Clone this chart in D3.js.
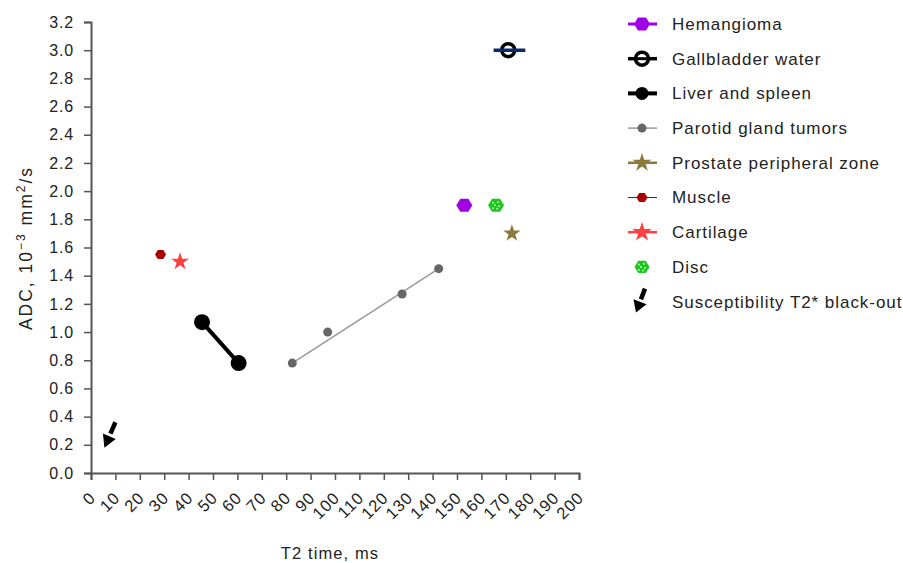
<!DOCTYPE html>
<html>
<head>
<meta charset="utf-8">
<script src="https://cdn.jsdelivr.net/npm/d3@7"></script>
<style>
  body { margin: 0; background: #fff; }
  svg text { font-family: "Liberation Sans", Arial, Helvetica, sans-serif; fill: #222; }
</style>
</head>
<body>
<div id="chart"></div>
<script>
// T2 time (ms) vs ADC (10^-3 mm2/s)
var hemangioma = [{t2: 153, adc: 1.9}];
var gallbladder = [{t2: 171, adc: 3.0, lo: 165, hi: 178}];
var liverSpleen = [{t2: 45.5, adc: 1.07}, {t2: 60.5, adc: 0.78}];
var parotid = [{t2: 82.5, adc: 0.78}, {t2: 97, adc: 1.0}, {t2: 127.5, adc: 1.27}, {t2: 142.5, adc: 1.45}];
var prostate = [{t2: 172.5, adc: 1.7}];
var muscle = [{t2: 28.5, adc: 1.55}];
var cartilage = [{t2: 36.5, adc: 1.5}];
var disc = [{t2: 166, adc: 1.9}];
var blackout = {from: {t2: 10, adc: 0.36}, to: {t2: 5.5, adc: 0.18}};

var xTicks = d3.range(0, 201, 10);
var yTicks = d3.range(0, 3.21, 0.2);

var legendNames = ['Hemangioma', 'Gallbladder water', 'Liver and spleen', 'Parotid gland tumors',
  'Prostate peripheral zone', 'Muscle', 'Cartilage', 'Disc', 'Susceptibility T2* black-out'];

var width = 903, height = 563;
var x = d3.scaleLinear().domain([0, 200]).range([91, 579]);
var y = d3.scaleLinear().domain([0, 3.2]).range([473, 22]);

var svg = d3.select('#chart').append('svg')
    .attr('width', width)
    .attr('height', height);

// hexagon with pointy left/right ends
function hexPath(r) {
  var pts = d3.range(6).map(function (i) {
    var a = Math.PI / 3 * i;
    return [r * Math.cos(a), r * Math.sin(a) * 0.95];
  });
  return 'M' + pts.join('L') + 'Z';
}
var star = function (size) { return d3.symbol().type(d3.symbolStar).size(size)(); };

// axes
var yAxis = svg.append('g')
    .attr('transform', 'translate(91,0)')
    .call(d3.axisLeft(y).tickValues(yTicks).tickSize(7).tickPadding(10).tickFormat(d3.format('.1f')));
var xAxis = svg.append('g')
    .attr('transform', 'translate(0,473)')
    .call(d3.axisBottom(x).tickValues(xTicks).tickSize(7).tickFormat(d3.format('d')));

[xAxis, yAxis].forEach(function (ax) {
  ax.select('.domain').attr('stroke', '#555').attr('stroke-width', 2);
  ax.selectAll('.tick line').attr('stroke', '#555').attr('stroke-width', 1.5);
  ax.selectAll('.tick text').style('font-size', '16px').style('letter-spacing', '0.8px').attr('fill', '#222');
});
xAxis.selectAll('.tick text')
    .style('font-size', '16.5px')
    .attr('text-anchor', 'end')
    .attr('dy', null)
    .attr('y', 0)
    .attr('transform', 'translate(5,26) rotate(-45)');

svg.append('text')
    .attr('x', 330).attr('y', 559)
    .attr('text-anchor', 'middle')
    .style('font-size', '16.5px')
    .style('letter-spacing', '1.1px')
    .text('T2 time, ms');

var yt = svg.append('text')
    .attr('transform', 'translate(32,248) rotate(-90)')
    .attr('text-anchor', 'middle')
    .style('font-size', '17.5px')
    .style('letter-spacing', '2px');
yt.append('tspan').text('ADC, 10');
yt.append('tspan').attr('dy', -7).style('font-size', '12px').text('\u22123');
yt.append('tspan').attr('dy', 7).text(' mm');
yt.append('tspan').attr('dy', -7).style('font-size', '12px').text('2');
yt.append('tspan').attr('dy', 7).text('/s');

var plot = svg.append('g');
var line = d3.line().x(function (d) { return x(d.t2); }).y(function (d) { return y(d.adc); });

// parotid: straight trend line from first to last measurement
plot.append('path').datum([parotid[0], parotid[parotid.length - 1]]).attr('d', line)
    .attr('fill', 'none').attr('stroke', '#999').attr('stroke-width', 1.5);
plot.selectAll('.parotid').data(parotid).enter().append('circle')
    .attr('cx', function (d) { return x(d.t2); }).attr('cy', function (d) { return y(d.adc); })
    .attr('r', 4.5).attr('fill', '#666');

// liver and spleen
plot.append('path').datum(liverSpleen).attr('d', line)
    .attr('fill', 'none').attr('stroke', '#000').attr('stroke-width', 4);
plot.selectAll('.liver').data(liverSpleen).enter().append('circle')
    .attr('cx', function (d) { return x(d.t2); }).attr('cy', function (d) { return y(d.adc); })
    .attr('r', 8).attr('fill', '#000');

// gallbladder water
plot.selectAll('.gb').data(gallbladder).enter().append('circle')
    .attr('cx', function (d) { return x(d.t2); }).attr('cy', function (d) { return y(d.adc); })
    .attr('r', 6.5).attr('fill', '#fff').attr('stroke', '#000').attr('stroke-width', 3.5);
plot.selectAll('.gbbar').data(gallbladder).enter().append('line')
    .attr('x1', function (d) { return x(d.lo); }).attr('x2', function (d) { return x(d.hi); })
    .attr('y1', function (d) { return y(d.adc); }).attr('y2', function (d) { return y(d.adc); })
    .attr('stroke', '#0a2a6a').attr('stroke-width', 3.5);

// hemangioma
plot.selectAll('.hem').data(hemangioma).enter().append('path')
    .attr('transform', function (d) { return 'translate(' + x(d.t2) + ',' + y(d.adc) + ')'; })
    .attr('d', hexPath(8)).attr('fill', '#a000e6');

// disc
var discG = plot.selectAll('.disc').data(disc).enter().append('g')
    .attr('transform', function (d) { return 'translate(' + x(d.t2) + ',' + y(d.adc) + ')'; });
discG.append('path').attr('d', hexPath(8)).attr('fill', '#1ec81e');
[[-3, -2.5], [2, -3], [-1, 0], [3, 1], [-3, 3], [1, 3.5]].forEach(function (p) {
  discG.append('circle').attr('cx', p[0]).attr('cy', p[1]).attr('r', 0.9).attr('fill', '#cfffcf');
});

// prostate
plot.selectAll('.pro').data(prostate).enter().append('path')
    .attr('transform', function (d) { return 'translate(' + x(d.t2) + ',' + y(d.adc) + ')'; })
    .attr('d', star(95)).attr('fill', '#8a7a3c');

// muscle
plot.selectAll('.mus').data(muscle).enter().append('path')
    .attr('transform', function (d) { return 'translate(' + x(d.t2) + ',' + y(d.adc) + ')'; })
    .attr('d', hexPath(5.5)).attr('fill', '#a80000');

// cartilage
plot.selectAll('.car').data(cartilage).enter().append('path')
    .attr('transform', function (d) { return 'translate(' + x(d.t2) + ',' + y(d.adc) + ')'; })
    .attr('d', star(100)).attr('fill', '#ff4040');

// susceptibility black-out arrow
function drawArrow(g, x1, y1, x2, y2) {
  var ang = Math.atan2(y2 - y1, x2 - x1) * 180 / Math.PI;
  var len = Math.hypot(x2 - x1, y2 - y1);
  var a = g.append('g').attr('transform', 'translate(' + x1 + ',' + y1 + ') rotate(' + ang + ')');
  a.append('line').attr('x1', 0).attr('y1', 0).attr('x2', len * 0.45).attr('y2', 0)
      .attr('stroke', '#000').attr('stroke-width', 4.5);
  a.append('path').attr('d', 'M' + (len * 0.55) + ',-7L' + len + ',0L' + (len * 0.55) + ',7Z').attr('fill', '#000');
}
drawArrow(plot, x(blackout.from.t2), y(blackout.from.adc), x(blackout.to.t2), y(blackout.to.adc));

// legend
var lg = svg.append('g');
var rowY = function (i) { return 24 + i * 34.7; };
var lx0 = 628, lx1 = 657, lc = 642;
legendNames.forEach(function (name, i) {
  var row = lg.append('g').attr('transform', 'translate(0,' + rowY(i) + ')');
  row.append('text').attr('x', 672).attr('y', 0).attr('dy', '0.35em')
      .style('font-size', '17px').style('letter-spacing', '0.95px').text(name);
  function seg(color, w) {
    row.append('line').attr('x1', lx0).attr('x2', lx1).attr('y1', 0).attr('y2', 0)
        .attr('stroke', color).attr('stroke-width', w);
  }
  if (i === 0) { seg('#a000e6', 3); row.append('path').attr('transform', 'translate(' + lc + ',0)').attr('d', hexPath(8)).attr('fill', '#a000e6'); }
  if (i === 1) { seg('#000', 3.5); row.append('circle').attr('cx', lc).attr('cy', 0).attr('r', 6.5).attr('fill', '#fff').attr('stroke', '#000').attr('stroke-width', 3.5);
    row.append('line').attr('x1', lc - 5).attr('x2', lc + 5).attr('y1', 0).attr('y2', 0).attr('stroke', '#000').attr('stroke-width', 3); }
  if (i === 2) { seg('#000', 4); row.append('circle').attr('cx', lc).attr('cy', 0).attr('r', 6.5).attr('fill', '#000'); }
  if (i === 3) { seg('#999', 1.5); row.append('circle').attr('cx', lc).attr('cy', 0).attr('r', 4.5).attr('fill', '#666'); }
  if (i === 4) { seg('#8a7a3c', 2.5); row.append('path').attr('transform', 'translate(' + lc + ',0)').attr('d', star(110)).attr('fill', '#8a7a3c'); }
  if (i === 5) { seg('#a80000', 1); row.append('path').attr('transform', 'translate(' + lc + ',0)').attr('d', hexPath(5.5)).attr('fill', '#a80000'); }
  if (i === 6) { seg('#ff4040', 2.5); row.append('path').attr('transform', 'translate(' + lc + ',0)').attr('d', star(120)).attr('fill', '#ff4040'); }
  if (i === 7) {
    var dg = row.append('g').attr('transform', 'translate(' + lc + ',0)');
    dg.append('path').attr('d', hexPath(7.5)).attr('fill', '#1ec81e');
    [[-3, -2.5], [2, -3], [-1, 0], [3, 1], [-3, 3], [1, 3.5]].forEach(function (p) {
      dg.append('circle').attr('cx', p[0]).attr('cy', p[1]).attr('r', 0.9).attr('fill', '#cfffcf');
    });
  }
  if (i === 8) { drawArrow(row, 645, -13, 636, 11); }
});
</script>
</body>
</html>
